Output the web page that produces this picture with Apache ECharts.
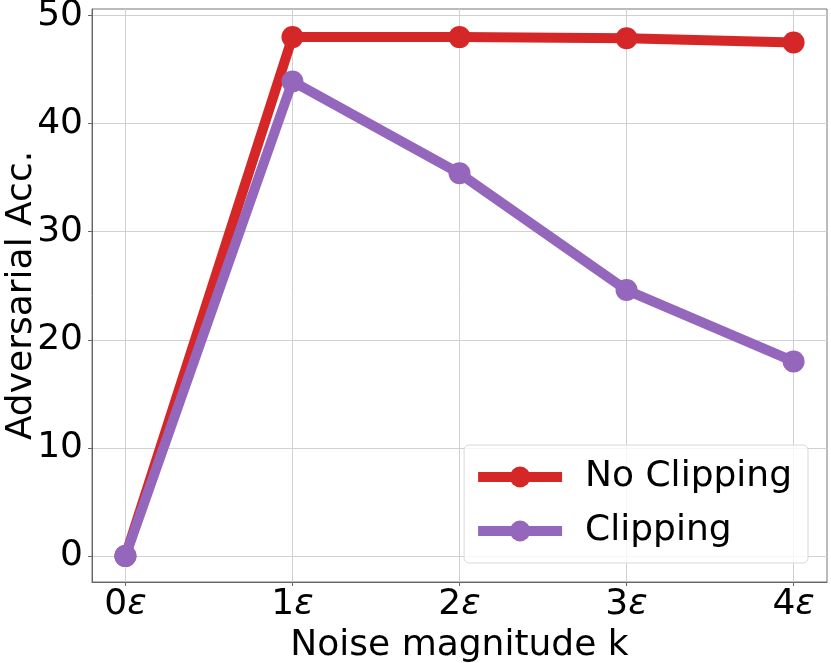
<!DOCTYPE html>
<html>
<head>
<meta charset="utf-8">
<script src="https://cdn.jsdelivr.net/npm/echarts@6/dist/echarts.min.js"></script>
<style>
  html, body { margin: 0; padding: 0; background: #fff; }
  #chart { width: 831px; height: 663px; }
</style>
</head>
<body>
<div id="chart"></div>
<script>
// noise magnitude k, in multiples of epsilon
const noiseK = [0, 1, 2, 3, 4];
const noClipping = [0, 48.0, 48.0, 47.9, 47.5];
const clipping = [0, 43.9, 35.4, 24.6, 18.0];
const yTicks = [0, 10, 20, 30, 40, 50];

const FONT = 'DejaVu Sans';
const RED = '#d62728';
const PURPLE = '#9467bd';

const chart = echarts.init(document.getElementById('chart'));

function pairs(ys) {
  return noiseK.map((k, i) => [k, ys[i]]);
}

chart.setOption({
  animation: false,
  grid: {
    left: 92, right: 4, top: 9, bottom: 81,
    outerBoundsMode: 'none',
    containLabel: false,
    show: true, borderColor: '#777', borderWidth: 1
  },
  xAxis: {
    type: 'value',
    min: -0.2,
    max: 4.2,
    name: 'Noise magnitude k',
    nameLocation: 'middle',
    nameGap: 46,
    nameMoveOverlap: false,
    nameTextStyle: { fontFamily: FONT, fontSize: 36, color: '#000' },
    axisLine: { show: true, onZero: false, lineStyle: { color: '#666', width: 1 } },
    axisTick: { show: true, inside: false, length: 4, customValues: noiseK, lineStyle: { color: '#666' } },
    axisLabel: {
      margin: 5,
      customValues: noiseK,
      formatter: v => '{n|' + v + '}{e|ε}',
      rich: {
        n: { fontFamily: FONT, fontSize: 36, color: '#000' },
        e: { fontFamily: FONT, fontSize: 36, fontStyle: 'italic', color: '#000' }
      }
    },
    splitLine: { show: true, lineStyle: { color: '#d0d0d0', width: 1 } }
  },
  yAxis: {
    type: 'value',
    min: -2.4,
    max: 50.6,
    name: 'Adversarial Acc.',
    nameLocation: 'middle',
    nameGap: 52,
    nameMoveOverlap: false,
    nameTextStyle: { fontFamily: FONT, fontSize: 36, color: '#000' },
    axisLine: { show: true, onZero: false, lineStyle: { color: '#666', width: 1 } },
    axisTick: { show: true, inside: false, length: 4, customValues: yTicks, lineStyle: { color: '#666' } },
    axisLabel: {
      margin: 9,
      customValues: yTicks,
      fontFamily: FONT,
      fontSize: 36,
      color: '#000'
    },
    splitLine: { show: true, lineStyle: { color: '#d0d0d0', width: 1 } }
  },
  legend: {
    right: 23,
    bottom: 100,
    orient: 'vertical',
    itemWidth: 84,
    itemHeight: 26,
    itemGap: 14,
    padding: [12, 16, 12, 9],
    backgroundColor: 'rgba(255,255,255,0.8)',
    borderColor: '#d8d8d8',
    borderWidth: 1,
    borderRadius: 5,
    lineStyle: { width: 10 },
    textStyle: { fontFamily: FONT, fontSize: 36, lineHeight: 40, color: '#000', padding: [0, 0, 0, 18] },
    data: ['No Clipping', 'Clipping']
  },
  series: [
    {
      name: 'No Clipping',
      type: 'line',
      data: pairs(noClipping),
      symbol: 'circle',
      symbolSize: 22,
      lineStyle: { color: RED, width: 10 },
      itemStyle: { color: RED },
      z: 3
    },
    {
      name: 'Clipping',
      type: 'line',
      data: pairs(clipping),
      symbol: 'circle',
      symbolSize: 22,
      lineStyle: { color: PURPLE, width: 10 },
      itemStyle: { color: PURPLE },
      z: 4
    }
  ]
});
</script>
</body>
</html>
